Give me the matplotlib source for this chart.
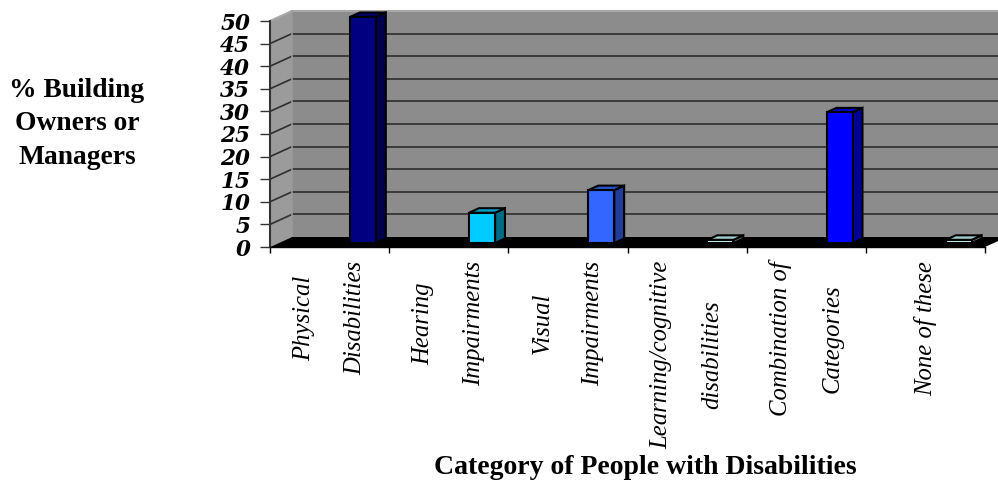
import matplotlib
matplotlib.use("Agg")
import matplotlib.pyplot as plt
import numpy as np

# ---------------- data ----------------
categories = ["Physical\nDisabilities", "Hearing\nImpairments", "Visual\nImpairments",
              "Learning/cognitive\ndisabilities", "Combination of\nCategories", "None of these"]
values = [50, 6.7, 11.7, 0.7, 28.9, 0.7]
y_ticks = [0, 5, 10, 15, 20, 25, 30, 35, 40, 45, 50]
front_colors = ["#000080", "#00CCFF", "#3366FF", "#CCFFFF", "#0000FF", "#CCFFFF"]
side_colors = ["#00004d", "#006b85", "#1f3d99", "#6b8585", "#000099", "#6b8585"]
top_colors = ["#000066", "#00a3cc", "#2952cc", "#a3cccc", "#0000cc", "#a3cccc"]

# ---------------- figure ----------------
W, H = 998, 484
fig = plt.figure(figsize=(W / 100, H / 100), dpi=100)
fig.patch.set_facecolor("white")
ax = fig.add_axes([270 / W, 1 - 247 / H, 715 / W, 226 / H])
n = len(categories)
ymax = 50
ax.set_xlim(0, n)
ax.set_ylim(0, ymax)
ax.patch.set_visible(False)

# oblique depth offsets in data units
DX = 22 / (715 / n)
DY = 10 / (226 / ymax)


def proj(x, y, f):
    return x + f * DX, y + f * DY


def poly(pts, **kw):
    xs = [p[0] for p in pts]
    ys = [p[1] for p in pts]
    ax.fill(xs, ys, clip_on=False, **kw)


# back wall
poly([proj(0, 0, 1), proj(n, 0, 1), proj(n, ymax, 1), proj(0, ymax, 1)],
     facecolor="#8c8c8c", edgecolor="none", zorder=0)
# side wall
poly([(0, 0), (0, ymax), proj(0, ymax, 1), proj(0, 0, 1)],
     facecolor="#9b9b9b", edgecolor="none", zorder=0.5)

# gridlines on back wall + diagonals on side wall
for t in y_ticks[1:-1]:
    x1, y1 = proj(0, t, 1)
    x2, y2 = proj(n, t, 1)
    ax.plot([x1, x2], [y1, y2], color="#2e2e2e", lw=1.2, zorder=1, clip_on=False)
    ax.plot([0, x1], [t, y1], color="#2e2e2e", lw=1.2, zorder=1, clip_on=False)

# wall borders
xa, ya = proj(0, ymax, 1)
xb, yb = proj(n, ymax, 1)
ax.plot([0, xa, xb], [ymax, ya, yb], color="#a8a8a8", lw=1.5, zorder=1.2, clip_on=False)
xc, yc = proj(0, 0, 1)
ax.plot([xa, xc], [ya, yc], color="#9a9a9a", lw=1.2, zorder=1.2, clip_on=False)

# floor
poly([(0, 0), (n, 0), proj(n, 0, 1), proj(0, 0, 1)],
     facecolor="black", edgecolor="none", zorder=1.5)

# bars
off, bw, f0, f1 = 0.597, 0.218, 0.4, 0.85
for i, v in enumerate(values):
    x0 = i + off
    front = [proj(x0, 0, f0), proj(x0 + bw, 0, f0), proj(x0 + bw, v, f0), proj(x0, v, f0)]
    side = [proj(x0 + bw, 0, f0), proj(x0 + bw, 0, f1), proj(x0 + bw, v, f1), proj(x0 + bw, v, f0)]
    top = [proj(x0, v, f0), proj(x0 + bw, v, f0), proj(x0 + bw, v, f1), proj(x0, v, f1)]
    kw = dict(edgecolor="black", linewidth=1.5, joinstyle="miter", zorder=3)
    poly(side, facecolor=side_colors[i], **kw)
    poly(top, facecolor=top_colors[i], **kw)
    poly(front, facecolor=front_colors[i], **kw)

# spines
for s in ("top", "right"):
    ax.spines[s].set_visible(False)
ax.spines["left"].set_color("#333333")
ax.spines["left"].set_linewidth(1.5)
ax.spines["bottom"].set_color("black")
ax.spines["bottom"].set_linewidth(1.0)

# y ticks
ax.set_yticks(y_ticks)
ax.set_yticklabels([str(t) for t in y_ticks], fontfamily="DejaVu Serif",
                   fontweight="bold", fontstyle="italic", fontsize=15.5)
ax.tick_params(axis="y", direction="out", length=7.2, width=1, color="#333333", pad=7)

# x ticks
ax.set_xticks(range(n + 1))
ax.set_xticklabels([])
ax.tick_params(axis="x", which="major", direction="out", length=4.3, width=1, color="black")
ax.set_xticks(np.arange(n) + 0.5, minor=True)
ax.set_xticklabels(categories, minor=True, rotation=90, ha="center", va="top",
                   fontfamily="Liberation Serif", fontstyle="italic", fontsize=17.8,
                   linespacing=2.7, multialignment="center")
ax.tick_params(axis="x", which="minor", length=0, pad=10)

# titles
fig.text(77 / W, 1 - 124 / H, "% Building\nOwners or\nManagers", ha="center", va="center",
         fontfamily="Liberation Serif", fontweight="bold", fontsize=19.8,
         linespacing=1.45, multialignment="center")
fig.text(645 / W, 1 - 468 / H, "Category of People with Disabilities", ha="center",
         va="center", fontfamily="Liberation Serif", fontweight="bold", fontsize=20)

fig.savefig("out.png", dpi=100)
